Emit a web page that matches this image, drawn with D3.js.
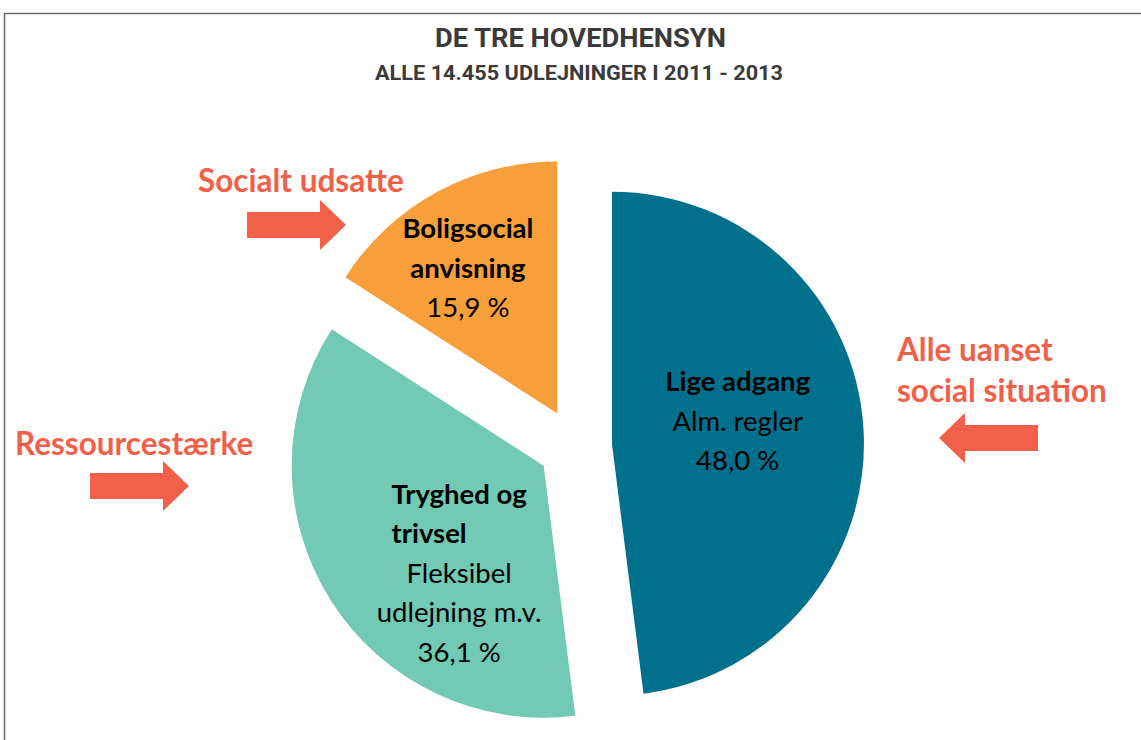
<!DOCTYPE html>
<html>
<head>
<meta charset="utf-8">
<script src="https://cdn.jsdelivr.net/npm/d3@7"></script>
<style>
  body { margin: 0; background: #fff; }
  svg { display: block; }
</style>
</head>
<body>
<svg id="pie_chart"></svg>
<script>
// data
const categories = ['Lige adgang', 'Tryghed og trivsel', 'Boligsocial anvisning'];
const values = [48.0, 36.1, 15.9];
const valueLabels = ['48,0 %', '36,1 %', '15,9 %'];
const boldLines = [['Lige adgang'], ['Tryghed og', 'trivsel'], ['Boligsocial', 'anvisning']];
const plainLines = [['Alm. regler'], ['Fleksibel', 'udlejning m.v.'], []];
const sideNotes = [['Alle uanset', 'social situation'], ['Ressourcestærke'], ['Socialt udsatte']];
const colors = ['#00708D', '#72C9B4', '#F69F3B'];

const w = 1141, h = 740;
const cx = 575, cy = 446;
const r = 252;
const explode = 37;
const coral = '#F2604A';

const svg = d3.select('#pie_chart')
    .attr('width', w)
    .attr('height', h);

// frame
svg.append('path')
    .attr('d', `M4.5,${h} L4.5,13.5 L${w},13.5`)
    .attr('fill', 'none')
    .attr('stroke', '#6b6b6b')
    .attr('stroke-width', 1.5);

// titles (condensed look forced with textLength)
svg.append('text')
    .attr('x', 435).attr('y', 47)
    .attr('font-family', 'Roboto, sans-serif')
    .attr('font-weight', 'bold')
    .attr('font-size', '26px')
    .attr('fill', '#3a3a3a')
    .attr('textLength', 291)
    .attr('lengthAdjust', 'spacingAndGlyphs')
    .text('DE TRE HOVEDHENSYN');

svg.append('text')
    .attr('x', 375).attr('y', 80)
    .attr('font-family', 'Roboto, sans-serif')
    .attr('font-weight', 'bold')
    .attr('font-size', '20.5px')
    .attr('fill', '#3a3a3a')
    .attr('textLength', 408)
    .attr('lengthAdjust', 'spacingAndGlyphs')
    .text('ALLE 14.455 UDLEJNINGER I 2011 - 2013');

const dataset = categories.map((c, i) => ({ category: c, value: values[i], i: i }));

const pie = d3.pie()
    .sort(null)
    .value((d) => d.value);

const arc = d3.arc()
    .innerRadius(0)
    .outerRadius(r);

const arcs = pie(dataset);

function offset(d) {
    let a = (d.startAngle + d.endAngle) / 2;
    return [Math.sin(a) * explode, -Math.cos(a) * explode];
}

const g = svg.append('g')
    .attr('transform', `translate(${cx},${cy})`);

g.selectAll('path.slice')
    .data(arcs)
    .enter()
    .append('path')
    .attr('class', 'slice')
    .attr('transform', (d) => `translate(${offset(d)})`)
    .attr('d', arc)
    .attr('fill', (d) => colors[d.data.i]);

// label placement relative to each slice's centroid
const nudge = [[0, -15], [22, 40], [-29, -35]];
const lineH = 39.5;
const labelFont = 'Lato, "Open Sans", sans-serif';

arcs.forEach((d) => {
    let i = d.data.i;
    let o = offset(d);
    let c = arc.centroid(d);
    let x = o[0] + c[0] + nudge[i][0];
    let y = o[1] + c[1] + nudge[i][1];
    let lines = boldLines[i].map((t) => ({ t: t, bold: true }))
        .concat(plainLines[i].map((t) => ({ t: t, bold: false })))
        .concat([{ t: valueLabels[i], bold: false }]);
    let y0 = y - (lines.length - 1) * lineH / 2;
    let txt = g.append('text')
        .attr('text-anchor', 'middle')
        .attr('font-family', labelFont)
        .attr('font-size', '27.5px')
        .attr('fill', '#000');
    let firstW = null;
    lines.forEach((l, k) => {
        let ts = txt.append('tspan')
            .attr('x', x)
            .attr('y', y0 + k * lineH + 10)
            .attr('font-weight', l.bold ? 'bold' : 'normal')
            .text(l.t);
        if (k === 0) firstW = ts.node().getComputedTextLength();
        // second bold line sits flush left under the first one
        if (k === 1 && l.bold && boldLines[i].length > 1 && i === 1) {
            ts.attr('text-anchor', 'start').attr('x', x - firstW / 2);
        }
    });
});

// side notes with arrows
const notePos = [[897, 361], [15, 455], [198, 192]];
const arrowPos = [[1038, 438, -1], [90, 486, 1], [247, 225, 1]];

function arrow(x, y, dir) {
    // shaft 73 long, 26 high; head 26 long, 50 high
    let p = [[0, -13], [73, -13], [73, -25], [99, 0], [73, 25], [73, 13], [0, 13]];
    return d3.line()(p.map((q) => [x + dir * q[0], y + q[1]])) + 'Z';
}

sideNotes.forEach((lines, i) => {
    let t = svg.append('text')
        .attr('font-family', labelFont)
        .attr('font-weight', 'bold')
        .attr('font-size', '31.5px')
        .attr('fill', coral);
    lines.forEach((l, k) => {
        t.append('tspan')
            .attr('x', notePos[i][0])
            .attr('y', notePos[i][1] + k * 41)
            .text(l);
    });
    svg.append('path')
        .attr('d', arrow(arrowPos[i][0], arrowPos[i][1], arrowPos[i][2]))
        .attr('fill', coral);
});
</script>
</body>
</html>
